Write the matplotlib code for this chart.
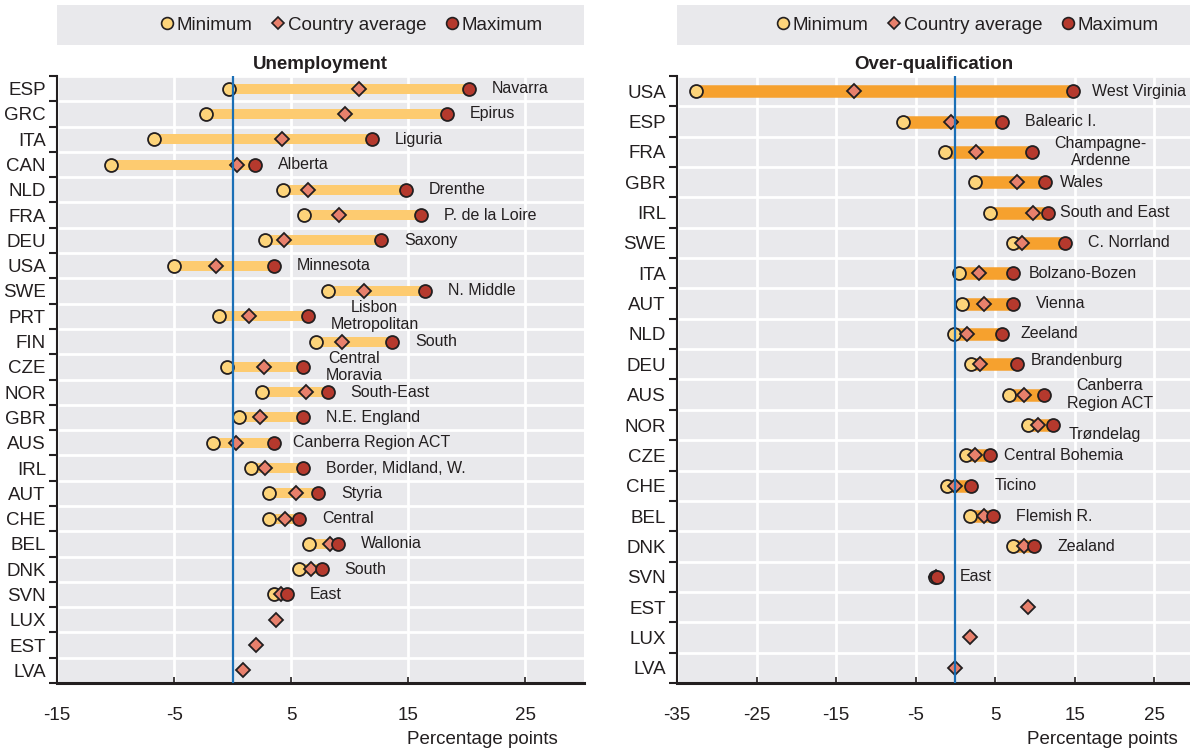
import numpy as np
import matplotlib
matplotlib.use("Agg")
from matplotlib import pyplot as plt
from matplotlib.lines import Line2D
from matplotlib.patches import Rectangle

plt.rcParams['font.family'] = ['Liberation Sans', 'DejaVu Sans']
plt.rcParams['axes.unicode_minus'] = False

nan = np.nan

############# Data #############

unemp_countries = ["ESP", "GRC", "ITA", "CAN", "NLD", "FRA", "DEU", "USA", "SWE", "PRT", "FIN", "CZE",
                   "NOR", "GBR", "AUS", "IRL", "AUT", "CHE", "BEL", "DNK", "SVN", "LUX", "EST", "LVA"]
unemp_min = [-0.3, -2.3, -6.7, -10.4, 4.3, 6.1, 2.8, -5.0, 8.1, -1.2, 7.1, -0.5,
             2.5, 0.5, -1.7, 1.6, 3.1, 3.1, 6.5, 5.7, 3.5, nan, nan, nan]
unemp_avg = [10.8, 9.6, 4.2, 0.4, 6.4, 9.1, 4.4, -1.4, 11.2, 1.4, 9.3, 2.7,
             6.3, 2.3, 0.3, 2.8, 5.4, 4.5, 8.3, 6.7, 4.1, 3.7, 2.0, 0.9]
unemp_max = [20.2, 18.3, 11.9, 1.9, 14.8, 16.1, 12.7, 3.5, 16.4, 6.4, 13.6, 6.0,
             8.1, 6.0, 3.5, 6.0, 7.3, 5.7, 9.0, 7.6, 4.6, nan, nan, nan]
unemp_regions = ["Navarra", "Epirus", "Liguria", "Alberta", "Drenthe", "P. de la Loire", "Saxony",
                 "Minnesota", "N. Middle", "Lisbon\nMetropolitan", "South", "Central\nMoravia",
                 "South-East", "N.E. England", "Canberra Region ACT", "Border, Midland, W.", "Styria",
                 "Central", "Wallonia", "South", "East", "", "", ""]

overq_countries = ["USA", "ESP", "FRA", "GBR", "IRL", "SWE", "ITA", "AUT", "NLD", "DEU",
                   "AUS", "NOR", "CZE", "CHE", "BEL", "DNK", "SVN", "EST", "LUX", "LVA"]
overq_min = [-32.6, -6.6, -1.3, 2.5, 4.4, 7.2, 0.5, 0.8, -0.2, 2.0,
             6.8, 9.1, 1.3, -1.1, 1.8, 7.3, -2.5, nan, nan, nan]
overq_avg = [-12.7, -0.6, 2.6, 7.7, 9.7, 8.4, 3.0, 3.6, 1.5, 3.1,
             8.6, 10.4, 2.5, 0.0, 3.6, 8.6, -2.4, 9.1, 1.8, 0.0]
overq_max = [14.8, 5.9, 9.6, 11.3, 11.6, 13.8, 7.2, 7.2, 5.9, 7.7,
             11.1, 12.3, 4.4, 2.0, 4.7, 9.9, -2.3, nan, nan, nan]
overq_regions = ["West Virginia", "Balearic I.", "Champagne-\nArdenne", "Wales", "South and East",
                 "C. Norrland", "Bolzano-Bozen", "Vienna", "Zeeland", "Brandenburg",
                 "Canberra\nRegion ACT", "Trøndelag", "Central Bohemia", "Ticino", "Flemish R.",
                 "Zealand", "East", "", "", ""]

# label nudges in points (dx, dy), hand placed like the original
unemp_nudge = {"Canberra Region ACT": (-2.5, 0)}
overq_nudge = {"West Virginia": (-3, 0), "Wales": (-6, 0), "South and East": (-7.5, 0),
               "Bolzano-Bozen": (-5, 0), "Zeeland": (-3.5, 0), "Brandenburg": (-6, 3),
               "Trøndelag": (-5.5, -7), "Central Bohemia": (-7, 0)}

############# Style #############

bg_color = '#E9E9EC'
min_color = '#FDD47A'
avg_color = '#E8806C'
max_color = '#B5392D'
edge_color = '#231F20'
zero_color = '#1B6FB6'
text_color = '#231F20'


def draw_panel(ax, countries, mins, avgs, maxs, regions, nudges, bar_color, bar_lw, xlim, title):
    y = np.arange(len(countries))
    ax.set_facecolor(bg_color)

    for i in range(len(countries)):
        if not np.isnan(mins[i]):
            ax.plot([mins[i], maxs[i]], [i, i], color=bar_color, lw=bar_lw,
                    solid_capstyle='butt', zorder=3)

    ax.plot(mins, y, 'o', ms=9.3, mfc=min_color, mec=edge_color, mew=1.3, zorder=4, ls='none')
    ax.plot(avgs, y, 'D', ms=6.8, mfc=avg_color, mec=edge_color, mew=1.3, zorder=5, ls='none')
    ax.plot(maxs, y, 'o', ms=9.3, mfc=max_color, mec=edge_color, mew=1.3, zorder=6, ls='none')
    ax.axvline(0, color=zero_color, lw=1.6, zorder=7)

    for i, reg in enumerate(regions):
        if reg == "":
            continue
        dx, dy = nudges.get(reg, (0, 0))
        ax.annotate(reg, (maxs[i], i), xytext=(16.5 + dx, dy), textcoords='offset points',
                    ha='left', va='center', multialignment='center', fontsize=11.5,
                    color=text_color, zorder=8, linespacing=1.2)

    ax.set_xticks([t for t in np.arange(-35, 30, 10) if xlim[0] <= t <= xlim[1]])
    ax.set_xlim(xlim)
    ax.set_yticks(y)
    ax.set_yticklabels(countries)
    ax.set_yticks(np.arange(-0.5, len(countries), 1), minor=True)
    ax.set_ylim(len(countries) - 0.5, -0.5)
    ax.tick_params(axis='y', which='major', length=0, labelsize=13.5, pad=8, labelcolor=text_color)
    ax.tick_params(axis='y', which='minor', length=6, width=1.5, color=edge_color, direction='out')
    ax.tick_params(axis='x', which='major', length=4, width=1.2, color=edge_color, direction='in',
                   labelsize=13.5, pad=17, labelcolor=text_color)

    ax.grid(axis='x', which='major', color='white', lw=2)
    ax.grid(axis='y', which='minor', color='white', lw=2)
    ax.set_axisbelow(True)

    for s in ['top', 'right']:
        ax.spines[s].set_visible(False)
    ax.spines['left'].set_linewidth(1.5)
    ax.spines['left'].set_color(edge_color)
    ax.spines['bottom'].set_linewidth(2.2)
    ax.spines['bottom'].set_color(edge_color)

    ax.set_title(title, fontsize=13.5, fontweight='bold', color=text_color, pad=5)


def add_legend(fig, ax, center_x):
    pos = ax.get_position()
    box = Rectangle((pos.x0, 1 - 45 / 752), pos.x1 - pos.x0, 40 / 752, transform=fig.transFigure,
                    facecolor=bg_color, edgecolor='none', zorder=0)
    fig.patches.append(box)
    handles = [
        Line2D([], [], marker='o', ls='none', ms=8.5, mfc=min_color, mec=edge_color, mew=1.2),
        Line2D([], [], marker='D', ls='none', ms=6.2, mfc=avg_color, mec=edge_color, mew=1.2),
        Line2D([], [], marker='o', ls='none', ms=8.5, mfc=max_color, mec=edge_color, mew=1.2),
    ]
    labels = ["Minimum", "Country average", "Maximum"]
    fig.legend(handles, labels, loc='center', bbox_to_anchor=(center_x, 1 - 25 / 752), ncol=3,
               frameon=False, fontsize=13.5, handlelength=0.8, handletextpad=0.1,
               columnspacing=1.0, labelcolor=text_color)


############# Main #############

def main():
    fig = plt.figure(figsize=(11.9, 7.52), dpi=100)
    ax1 = fig.add_axes([57 / 1190, 1 - 683 / 752, (584 - 57) / 1190, (683 - 76) / 752])
    ax2 = fig.add_axes([677 / 1190, 1 - 683 / 752, (1190 - 677) / 1190, (683 - 76) / 752])

    draw_panel(ax1, unemp_countries, unemp_min, unemp_avg, unemp_max, unemp_regions, unemp_nudge,
               '#FDCB70', 7.2, (-15, 30), "Unemployment")
    draw_panel(ax2, overq_countries, overq_min, overq_avg, overq_max, overq_regions, overq_nudge,
               '#F6A12E', 9, (-35, 29.5), "Over-qualification")

    add_legend(fig, ax1, 351 / 1190)
    add_legend(fig, ax2, 967 / 1190)

    fig.text(558 / 1190, 1 - 740 / 752, "Percentage points", ha='right', va='center',
             fontsize=13.5, color=text_color)
    fig.text(1178 / 1190, 1 - 740 / 752, "Percentage points", ha='right', va='center',
             fontsize=13.5, color=text_color)

    fig.savefig("out.png", dpi=100)


if __name__ == "__main__":
    main()
